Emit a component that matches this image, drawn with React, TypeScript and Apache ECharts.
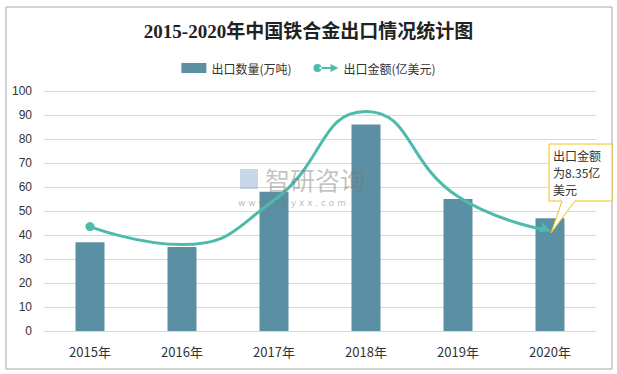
import React, { useEffect, useRef } from "react";
import * as echarts from "echarts";

const categories = ["2015年", "2016年", "2017年", "2018年", "2019年", "2020年"];
const quantity = [37, 35, 58, 86, 55, 47];
const amount = [8.7, 7.2, 10.9, 18.3, 11.2, 8.35];
const yTicks = [0, 100, 10];

export default function App() {
  const ref = useRef<HTMLDivElement>(null);
  useEffect(() => {
    if (!ref.current) return;
    const chart = echarts.init(ref.current, null, { renderer: "svg" });
    const lineData = amount.map((v, i) => {
      if (i === 0) return { value: v, symbol: "circle", symbolSize: 9 };
      if (i === amount.length - 1)
        return { value: v, symbol: "arrow", symbolSize: [9, 11], symbolRotate: -110 };
      return { value: v, symbol: "none" };
    });
    chart.setOption({
      animation: false,
      backgroundColor: "#ffffff",
      title: {
        text: "2015-2020年中国铁合金出口情况统计图",
        left: "center",
        top: 17,
        textStyle: {
          fontFamily: "Liberation Serif, Noto Sans CJK SC",
          fontSize: 19,
          fontWeight: "bold",
          color: "#222",
        },
      },
      legend: {
        top: 57,
        left: "center",
        itemGap: 22,
        itemWidth: 25,
        itemHeight: 10,
        textStyle: { fontSize: 12, color: "#333", fontFamily: "Noto Sans CJK SC" },
        data: [
          { name: "出口数量(万吨)", icon: "rect", itemStyle: { color: "#5b8fa3" } },
          {
            name: "出口金额(亿美元)",
            icon: "path://M0,5 a4,4 0 1,0 8,0 a4,4 0 1,0 -8,0 Z M6,4 L18,4 L18,6 L6,6 Z M17,1 L25,5 L17,9 Z",
            itemStyle: { color: "#4dbbac" },
          },
        ],
      },
      grid: { left: 44, right: 21, top: 91, bottom: 43 },
      xAxis: {
        type: "category",
        data: categories,
        axisLine: { show: true, lineStyle: { color: "#d9d9d9" } },
        axisTick: { show: false },
        axisLabel: { fontSize: 13, color: "#333", margin: 14, fontFamily: "Noto Sans CJK SC" },
      },
      yAxis: [
        {
          type: "value",
          min: yTicks[0],
          max: yTicks[1],
          interval: yTicks[2],
          axisLine: { show: false },
          axisTick: { show: false },
          splitLine: { lineStyle: { color: "#d9d9d9" } },
          axisLabel: { fontSize: 12, color: "#333", margin: 12, fontFamily: "Liberation Sans" },
        },
        {
          type: "value",
          min: 0,
          max: 20,
          show: false,
          splitLine: { show: false },
        },
      ],
      series: [
        {
          name: "出口数量(万吨)",
          type: "bar",
          data: quantity,
          barWidth: 29,
          itemStyle: { color: "#5b8fa3" },
        },
        {
          name: "出口金额(亿美元)",
          type: "line",
          yAxisIndex: 1,
          smooth: 0.5,
          showSymbol: true,
          symbol: "none",
          data: lineData,
          lineStyle: { color: "#4dbbac", width: 3 },
          itemStyle: { color: "#4dbbac" },
          z: 5,
        },
      ],
      graphic: [
        {
          type: "rect",
          shape: { x: 6, y: 7, width: 606, height: 362 },
          style: { fill: "none", stroke: "#a6a6a6", lineWidth: 1 },
          silent: true,
        },
        {
          type: "group",
          z: 100,
          silent: true,
          children: [
            {
              type: "text",
              x: 265,
              y: 166,
              z: 100,
              style: {
                text: "智研咨询",
                fontSize: 25,
                lineHeight: 25,
                fontFamily: "Noto Sans CJK SC",
                fill: "rgba(120,120,120,0.45)",
              },
            },
            {
              type: "rect",
              z: 100,
              shape: { x: 240, y: 169, width: 18, height: 20 },
              style: { fill: "rgba(150,175,215,0.5)" },
            },
            {
              type: "text",
              x: 238,
              y: 198,
              z: 100,
              style: {
                text: "w w w . c h y x x . c o m",
                fontSize: 9,
                lineHeight: 9,
                fontFamily: "DejaVu Sans",
                fill: "rgba(120,120,120,0.5)",
              },
            },
          ],
        },
        {
          type: "polygon",
          z: 110,
          shape: {
            points: [
              [549, 144],
              [612, 144],
              [612, 201],
              [575, 201],
              [551, 233],
              [562, 201],
              [549, 201],
            ],
          },
          style: { fill: "#ffffff", stroke: "#f2c012", lineWidth: 1 },
        },
        {
          type: "text",
          x: 553,
          y: 147,
          z: 111,
          style: {
            text: "出口金额\n为8.35亿\n美元",
            fontSize: 12,
            lineHeight: 17,
            fontFamily: "Noto Sans CJK SC",
            fill: "#333",
          },
        },
      ],
    });
    return () => chart.dispose();
  }, []);
  return (
    <div
      ref={ref}
      style={{ position: "absolute", left: 0, top: 0, width: 617, height: 374 }}
    />
  );
}
